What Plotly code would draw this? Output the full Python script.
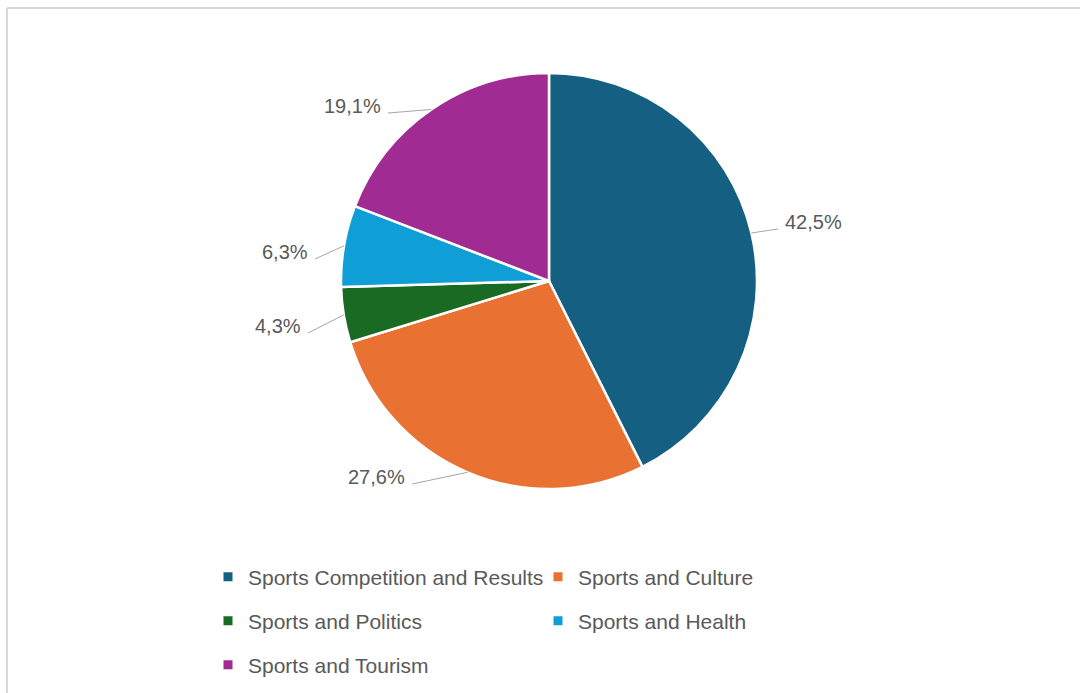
import math
import plotly.graph_objects as go

# Share of articles by topic (%)
categories = [
    "Sports Competition and Results",
    "Sports and Culture",
    "Sports and Politics",
    "Sports and Health",
    "Sports and Tourism",
]
shares = [42.5, 27.6, 4.3, 6.3, 19.1]
colors = ["#156082", "#E97132", "#196B24", "#0F9ED5", "#A02B93"]

# ---- page geometry (pixels) ----
W, H = 1080, 693
CX, CY, R = 549, 281, 208          # pie centre and radius

# end of each leader line (px) and which side the label sits on
label_ends = [(778, 229, "right"), (412, 484, "left"), (308, 333, "left"),
              (315, 259, "left"), (388, 113, "left")]

# legend layout: which legend row each category goes in, row centres (px)
legend_rows = [0, 0, 1, 1, 2]
row_centres = [577, 621, 665]
legend_left = 208
entry_w = 285

TEXT = "#595959"
FONT = "Liberation Sans, Arial, sans-serif"


def px(x):
    return x / W


def py(y):
    return 1 - y / H


def fmt(v):
    return f"{v:.1f}%".replace(".", ",")


fig = go.Figure()

fig.add_trace(go.Pie(
    labels=categories,
    values=shares,
    sort=False,
    direction="clockwise",
    rotation=0,
    marker=dict(colors=colors, line=dict(color="white", width=2.5)),
    textinfo="none",
    hoverinfo="label+percent",
    showlegend=False,
    domain=dict(x=[px(CX - R), px(CX + R)], y=[py(CY + R), py(CY - R)]),
))

# legend entries (square swatches), one legend per row
legend_names = ["legend", "legend2", "legend3"]
for cat, col, row in zip(categories, colors, legend_rows):
    fig.add_trace(go.Scatter(
        x=[None], y=[None], mode="markers", name=cat,
        marker=dict(symbol="square", size=9, color=col),
        legend=legend_names[row], hoverinfo="skip",
    ))

# data labels with leader lines from the middle of each slice's arc
shapes = []
annotations = []
total = sum(shares)
cum = 0.0
for v, (ex, ey, side) in zip(shares, label_ends):
    theta = 2 * math.pi * (cum + v / 2) / total
    cum += v
    sx = CX + R * math.sin(theta)
    sy = CY - R * math.cos(theta)
    shapes.append(dict(type="line", xref="paper", yref="paper",
                       x0=px(sx), y0=py(sy), x1=px(ex), y1=py(ey),
                       line=dict(color="#A6A6A6", width=1)))
    if side == "right":
        tx, anchor = ex + 5, "left"
    else:
        tx, anchor = ex - 5, "right"
    annotations.append(dict(text=fmt(v), xref="paper", yref="paper",
                            x=px(tx), y=py(ey - 7), xanchor=anchor,
                            yanchor="middle", showarrow=False,
                            font=dict(family=FONT, size=20, color=TEXT)))

# chart frame (top and left edges)
shapes.append(dict(type="line", xref="paper", yref="paper",
                   x0=px(7), y0=py(8), x1=1, y1=py(8),
                   line=dict(color="#D9D9D9", width=2)))
shapes.append(dict(type="line", xref="paper", yref="paper",
                   x0=px(7), y0=py(8), x1=px(7), y1=0,
                   line=dict(color="#D9D9D9", width=2)))

legend_style = dict(orientation="h", xanchor="left", yanchor="middle",
                    x=px(legend_left), entrywidth=entry_w,
                    font=dict(family=FONT, size=21, color=TEXT),
                    bgcolor="rgba(0,0,0,0)", itemclick=False,
                    itemdoubleclick=False)

fig.update_layout(
    width=W, height=H,
    margin=dict(l=0, r=0, t=0, b=0),
    paper_bgcolor="white", plot_bgcolor="white",
    xaxis=dict(visible=False), yaxis=dict(visible=False),
    shapes=shapes, annotations=annotations,
    legend=dict(legend_style, y=py(row_centres[0])),
    legend2=dict(legend_style, y=py(row_centres[1])),
    legend3=dict(legend_style, y=py(row_centres[2])),
)

fig.write_html("out.html")
